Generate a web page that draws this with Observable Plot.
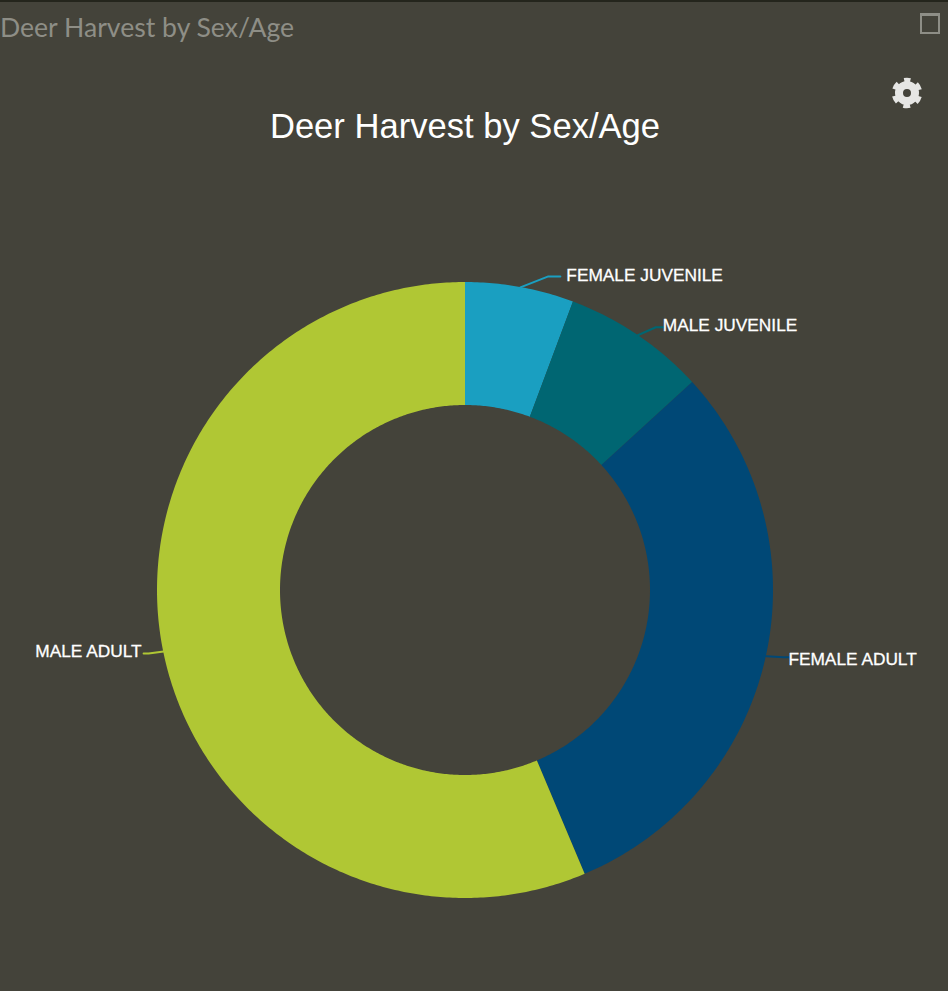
<!DOCTYPE html>
<html>
<head>
<meta charset="utf-8">
<script src="https://cdn.jsdelivr.net/npm/d3@7"></script>
<script src="https://cdn.jsdelivr.net/npm/@observablehq/plot@0.6"></script>
<style>
  html, body { margin: 0; padding: 0; background: #44433a; }
  #page { position: relative; width: 948px; height: 991px; overflow: hidden; background: #44433a; }
  #topline { position: absolute; left: 0; top: 0; width: 948px; height: 2px; background: #24251c; }
  #panel { position: absolute; left: 0; top: 11px; font: 400 26.6px Lato, sans-serif; color: #8e8e86; white-space: nowrap; }
  #title { position: absolute; left: 0; width: 930px; top: 107px; text-align: center; font: 400 34.6px "Liberation Sans", sans-serif; color: #fff; white-space: nowrap; }
  #win { position: absolute; left: 920px; top: 13px; width: 16px; height: 16px; border: 2px solid #8e8e86; border-top-width: 3px; box-sizing: content-box; }
  #gear { position: absolute; left: 889px; top: 75px; }
  #chart { position: absolute; left: 0; top: 190px; }
</style>
</head>
<body>
<div id="page">
  <div id="topline"></div>
  <div id="panel">Deer Harvest by Sex/Age</div>
  <div id="win"></div>
  <svg id="gear" width="36" height="36" viewBox="-18 -18 36 36">
    <circle r="8" fill="none" stroke="#e6e6e4" stroke-width="8"/>
    <circle r="13" fill="none" stroke="#e6e6e4" stroke-width="4.5" stroke-dasharray="6.8 6.82" stroke-dashoffset="3.4" transform="rotate(-90)"/>
  </svg>
  <div id="title">Deer Harvest by Sex/Age</div>
  <div id="chart"></div>
</div>
<script>
// Data (percent share, clockwise from 12 o'clock)
const categories = ["FEMALE JUVENILE", "MALE JUVENILE", "FEMALE ADULT", "MALE ADULT"];
const shares = [5.7, 7.5, 30.45, 56.35];
const colors = ["#1a9fc1", "#006672", "#004876", "#b0c734"];

// Layout
const W = 948, H = 801;
const outerPx = 308, innerPx = 185, cxPx = 465, cyPx = 400;
const innerRatio = innerPx / outerPx;
const leaderElbow = [[28, 11], [18, 8], [17, -1], [-15, -2]];   // px from slice edge to elbow
const leaderTail = [12, 7, 5, -5];                              // px of horizontal run
const labelGap = [6, 0, 0, -2];
const labelDrop = [-1, -1.5, 2, -2];

const total = d3.sum(shares);
const slices = [];
let acc = 0;
categories.forEach((name, i) => {
  const a0 = acc / total * 2 * Math.PI;
  acc += shares[i];
  const a1 = acc / total * 2 * Math.PI;
  slices.push({name, a0, a1, mid: (a0 + a1) / 2, i});
});

const polar = (a, r) => [r * Math.sin(a), r * Math.cos(a)];

// Ring band samples along each slice
const band = slices.flatMap(s => {
  const n = Math.ceil((s.a1 - s.a0) / 0.01);
  return d3.range(n + 1).map(k => {
    const a = s.a0 + (s.a1 - s.a0) * k / n;
    const [x1, y1] = polar(a, 1), [x2, y2] = polar(a, innerRatio);
    return {name: s.name, x1, y1, x2, y2};
  });
});

// Leader lines and labels anchored on each slice's middle angle
const leaders = slices.flatMap(s => {
  const [x, y] = polar(s.mid, 1);
  const [ex, ey] = leaderElbow[s.i];
  const x2 = x + ex / outerPx, y2 = y + ey / outerPx;
  return [
    {name: s.name, x, y},
    {name: s.name, x: x2, y: y2},
    {name: s.name, x: x2 + leaderTail[s.i] / outerPx, y: y2}
  ];
});
const labels = slices.map(s => {
  const [x, y] = polar(s.mid, 1);
  const [ex, ey] = leaderElbow[s.i];
  return {
    name: s.name,
    x: x + (ex + leaderTail[s.i] + labelGap[s.i]) / outerPx,
    y: y + (ey - labelDrop[s.i]) / outerPx,
    right: Math.sin(s.mid) > 0
  };
});

const textOpts = {x: "x", y: "y", text: "name", fill: "#ffffff", fontSize: 17.3, fontFamily: "Liberation Sans", stroke: "#ffffff", strokeWidth: 0.3};

const plot = Plot.plot({
  width: W, height: H,
  margin: 0,
  style: {background: "transparent", overflow: "visible"},
  x: {domain: [-cxPx / outerPx, (W - cxPx) / outerPx], axis: null},
  y: {domain: [-(H - cyPx) / outerPx, cyPx / outerPx], axis: null},
  color: {domain: categories, range: colors},
  marks: [
    Plot.area(band, {x1: "x1", y1: "y1", x2: "x2", y2: "y2", z: "name", fill: "name", curve: "linear"}),
    Plot.line(leaders, {x: "x", y: "y", z: "name", stroke: "name", strokeWidth: 2, curve: "linear"}),
    Plot.text(labels.filter(d => d.right), {...textOpts, textAnchor: "start"}),
    Plot.text(labels.filter(d => !d.right), {...textOpts, textAnchor: "end"})
  ]
});
document.getElementById("chart").appendChild(plot);
</script>
</body>
</html>
